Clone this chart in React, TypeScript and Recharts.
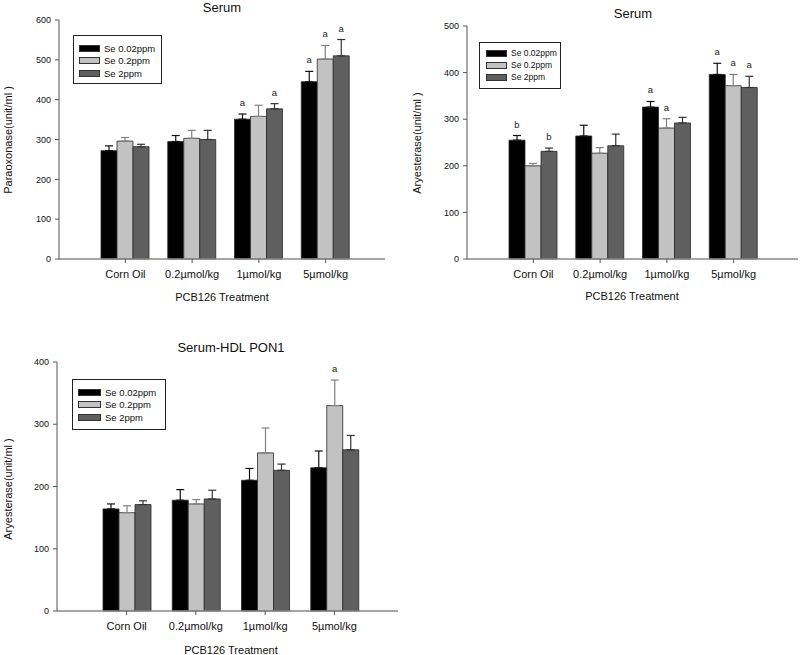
import React from "react";
import { BarChart, Bar, XAxis, YAxis, ErrorBar, LabelList } from "recharts";

const categories = ["Corn Oil", "0.2µmol/kg", "1µmol/kg", "5µmol/kg"];
const seriesNames = ["Se 0.02ppm", "Se 0.2ppm", "Se 2ppm"];

// serum paraoxonase
const paraMean = [
  [272, 295, 351, 445],
  [296, 303, 358, 502],
  [282, 300, 377, 510],
];
const paraErr = [
  [12, 15, 13, 26],
  [9, 20, 28, 34],
  [6, 23, 13, 41],
];
const paraSig = [
  ["", "", "a", "a"],
  ["", "", "", "a"],
  ["", "", "a", "a"],
];

// serum aryesterase
const aryMean = [
  [255, 264, 326, 396],
  [200, 227, 281, 372],
  [231, 243, 292, 368],
];
const aryErr = [
  [10, 23, 12, 24],
  [5, 12, 20, 24],
  [7, 25, 12, 24],
];
const arySig = [
  ["b", "", "a", "a"],
  ["", "", "a", "a"],
  ["b", "", "", "a"],
];

// serum-HDL aryesterase
const hdlMean = [
  [164, 178, 210, 230],
  [158, 172, 254, 330],
  [171, 180, 226, 259],
];
const hdlErr = [
  [8, 17, 19, 27],
  [11, 7, 40, 41],
  [6, 14, 10, 23],
];
const hdlSig = [
  ["", "", "", ""],
  ["", "", "", "a"],
  ["", "", "", ""],
];

const FONT = "Arial, 'Liberation Sans', sans-serif";
const fills = ["#000000", "#c2c2c2", "#5f5f5f"];
const errColors = ["#111111", "#808080", "#333333"];

function Panel(props: any) {
  const { p, mean, err, sig, yMax, yLabel, title } = props;

  const rows = categories.map((name, i) => {
    const row: any = { name };
    mean.forEach((s: number[], k: number) => {
      row["s" + k] = s[i];
      row["e" + k] = [0, err[k][i]];
    });
    return row;
  });

  const ticks: number[] = [];
  for (let v = 0; v <= yMax; v += 100) ticks.push(v);

  const sigLabel = (k: number) => (lp: any) => {
    const i = lp.index;
    const letter = sig[k][i];
    if (!letter) return null;
    const vb = lp.viewBox || lp;
    const pxPerUnit = vb.height / mean[k][i];
    const top = vb.y - err[k][i] * pxPerUnit;
    return (
      <text x={vb.x + vb.width / 2} y={top - 8} textAnchor="middle" fontSize={9.5} fontFamily={FONT} fill="#222">
        {letter}
      </text>
    );
  };

  const text: React.CSSProperties = { position: "absolute", whiteSpace: "nowrap", fontFamily: FONT, color: "#111" };

  return (
    <div style={{ position: "absolute", left: p.left, top: p.top, width: p.w, height: p.h }}>
      <BarChart
        width={p.w}
        height={p.h}
        data={rows}
        margin={{ top: p.plotTop, right: p.right, left: 0, bottom: p.bottom }}
        barGap={0}
        barSize={16}
      >
        <XAxis
          dataKey="name"
          height={30}
          padding={{ left: p.padL, right: p.padR }}
          tickSize={4}
          tickMargin={7}
          interval={0}
          axisLine={{ stroke: "#8a8a8a", strokeWidth: 1.5 }}
          tickLine={{ stroke: "#555" }}
          tick={{ fontSize: 11, fill: "#111", fontFamily: FONT }}
        />
        <YAxis
          width={p.yw}
          domain={[0, yMax]}
          ticks={ticks}
          interval={0}
          tickSize={4}
          tickMargin={4}
          axisLine={{ stroke: "#555" }}
          tickLine={{ stroke: "#555" }}
          tick={{ fontSize: 9, fill: "#111", fontFamily: FONT }}
        />
        {[0, 1, 2].map((k) => (
          <Bar
            key={k}
            dataKey={"s" + k}
            name={seriesNames[k]}
            fill={fills[k]}
            stroke="#2a2a2a"
            strokeWidth={0.8}
            isAnimationActive={false}
          >
            <ErrorBar dataKey={"e" + k} direction="y" width={4} stroke={errColors[k]} strokeWidth={1.2} />
            <LabelList dataKey={"s" + k} content={sigLabel(k)} />
          </Bar>
        ))}
      </BarChart>

      <div style={{ ...text, left: p.titleX, top: p.titleY, fontSize: 13, transform: "translate(-50%,-50%)" }}>{title}</div>
      <div style={{ ...text, left: p.ylX, top: p.ylY, fontSize: 11, transform: "translate(-50%,-50%) rotate(-90deg)" }}>
        {yLabel}
      </div>
      <div style={{ ...text, left: p.xtX, top: p.xtY, fontSize: 11, transform: "translate(-50%,-50%)" }}>
        PCB126 Treatment
      </div>

      <div
        style={{
          position: "absolute",
          left: p.lgL,
          top: p.lgT,
          width: p.lgW,
          height: p.lgH,
          border: "1px solid #222",
          boxSizing: "border-box",
          background: "#fff",
          paddingTop: p.lgPad,
          overflow: "hidden",
        }}
      >
        {seriesNames.map((n, k) => (
          <div key={n} style={{ display: "flex", alignItems: "center", height: p.lgRow, whiteSpace: "nowrap" }}>
            <div
              style={{
                flex: "none",
                marginLeft: p.swL,
                width: p.swW,
                height: 7,
                background: fills[k],
                border: "1px solid #333",
                boxSizing: "border-box",
              }}
            />
            <span style={{ marginLeft: 4, fontSize: p.lgFont, fontFamily: FONT, color: "#111", whiteSpace: "nowrap" }}>{n}</span>
          </div>
        ))}
      </div>
    </div>
  );
}

const p1 = {
  left: 0, top: 0, w: 400, h: 310, plotTop: 20, right: 15, bottom: 21, yw: 59, padL: 33, padR: 26,
  titleX: 222, titleY: 7, ylX: 8, ylY: 140, xtX: 222, xtY: 297,
  lgL: 73, lgT: 35, lgW: 89, lgH: 49, lgPad: 6, lgRow: 12.5, swL: 5, swW: 21, lgFont: 9.5,
};
const p2 = {
  left: 400, top: 0, w: 400, h: 310, plotTop: 26, right: 2, bottom: 21, yw: 67, padL: 33, padR: 31,
  titleX: 233, titleY: 13, ylX: 17, ylY: 143, xtX: 232, xtY: 296,
  lgL: 79, lgT: 42, lgW: 82, lgH: 47, lgPad: 4, lgRow: 12, swL: 6, swW: 21, lgFont: 8.5,
};
const p3 = {
  left: 0, top: 320, w: 400, h: 335, plotTop: 42, right: 2, bottom: 14, yw: 57, padL: 35, padR: 29,
  titleX: 231, titleY: 27, ylX: 8, ylY: 169, xtX: 231, xtY: 330,
  lgL: 72, lgT: 59, lgW: 94, lgH: 51, lgPad: 6, lgRow: 12.5, swL: 5, swW: 23, lgFont: 9.5,
};

export default function App() {
  return (
    <div style={{ position: "absolute", left: 0, top: 0, width: 800, height: 655, background: "#fff", overflow: "hidden" }}>
      <Panel p={p1} mean={paraMean} err={paraErr} sig={paraSig} yMax={600} title="Serum" yLabel="Paraoxonase(unit/ml )" />
      <Panel p={p2} mean={aryMean} err={aryErr} sig={arySig} yMax={500} title="Serum" yLabel="Aryesterase(unit/ml )" />
      <Panel p={p3} mean={hdlMean} err={hdlErr} sig={hdlSig} yMax={400} title="Serum-HDL PON1" yLabel="Aryesterase(unit/ml )" />
    </div>
  );
}
